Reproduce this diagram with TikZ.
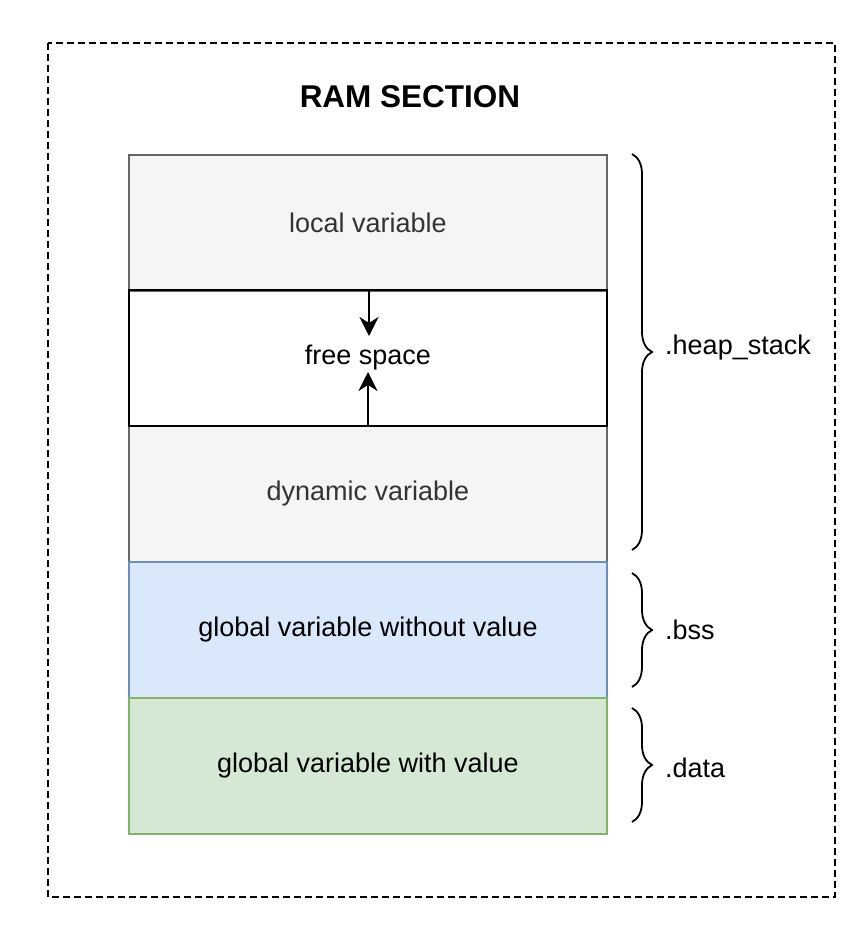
\documentclass[tikz,border=0pt]{standalone}
\usepackage{fontspec}
\setmainfont{Liberation Sans}
\usetikzlibrary{arrows.meta,decorations.pathreplacing}
\definecolor{grayfill}{HTML}{F5F5F5}
\definecolor{graystroke}{HTML}{666666}
\definecolor{graytext}{HTML}{333333}
\definecolor{bluefill}{HTML}{DAE8FC}
\definecolor{bluestroke}{HTML}{6C8EBF}
\definecolor{greenfill}{HTML}{D5E8D4}
\definecolor{greenstroke}{HTML}{82B366}
\tikzset{
  row/.style={minimum width=478pt, minimum height=136pt, inner sep=0pt, outer sep=0pt, line width=1.8pt, font=\fontsize{27}{32}\selectfont, anchor=north west},
  grayrow/.style={row, draw=graystroke, fill=grayfill, text=graytext},
  freerow/.style={row, draw=black, fill=white, line width=2.2pt},
  bluerow/.style={row, draw=bluestroke, fill=bluefill},
  greenrow/.style={row, draw=greenstroke, fill=greenfill},
  bracelabel/.style={anchor=west, font=\fontsize{27}{32}\selectfont, inner sep=0pt},
  bracedeco/.style={decorate, decoration={brace, amplitude=20pt, aspect=0.5}, line width=1.8pt},
  flowarrow/.style={-{Stealth[length=19pt, width=19pt, inset=6pt]}, line width=2.2pt}
}
\begin{document}
\begin{tikzpicture}[x=1pt, y=-1pt]
\useasboundingbox (0,0) rectangle (866,936);
\draw[line width=2.2pt, dash pattern=on 7pt off 4pt] (48,43) rectangle (835,897);
\node[font=\bfseries\fontsize{31.5}{36}\selectfont] (title) at (410,97) {RAM SECTION};
\node[freerow] (free) at (129,290) {free space};
\node[grayrow] (local) at (129,155) {local variable};
\node[grayrow] (dyn) at (129,426) {dynamic variable};
\draw[line width=2.2pt] (free.north west) rectangle (free.south east);
\node[bluerow] (bss) at (129,562) {global variable without value};
\node[greenrow] (data) at (129,698) {global variable with value};
\coordinate (downtip) at (369,336);
\coordinate (uptip) at (368,372);
\draw[flowarrow] (free.north -| downtip) -- (downtip);
\draw[flowarrow] (free.south -| uptip) -- (uptip);
\draw[bracedeco] (632,154) -- (632,550);
\draw[bracedeco] (632,573) -- (632,687);
\draw[bracedeco] (632,708) -- (632,822);
\node[bracelabel] (heaplbl) at (665,348) {.heap\_stack};
\node[bracelabel] (bsslbl) at (665,630) {.bss};
\node[bracelabel] (datalbl) at (665,768) {.data};
\end{tikzpicture}
\end{document}
